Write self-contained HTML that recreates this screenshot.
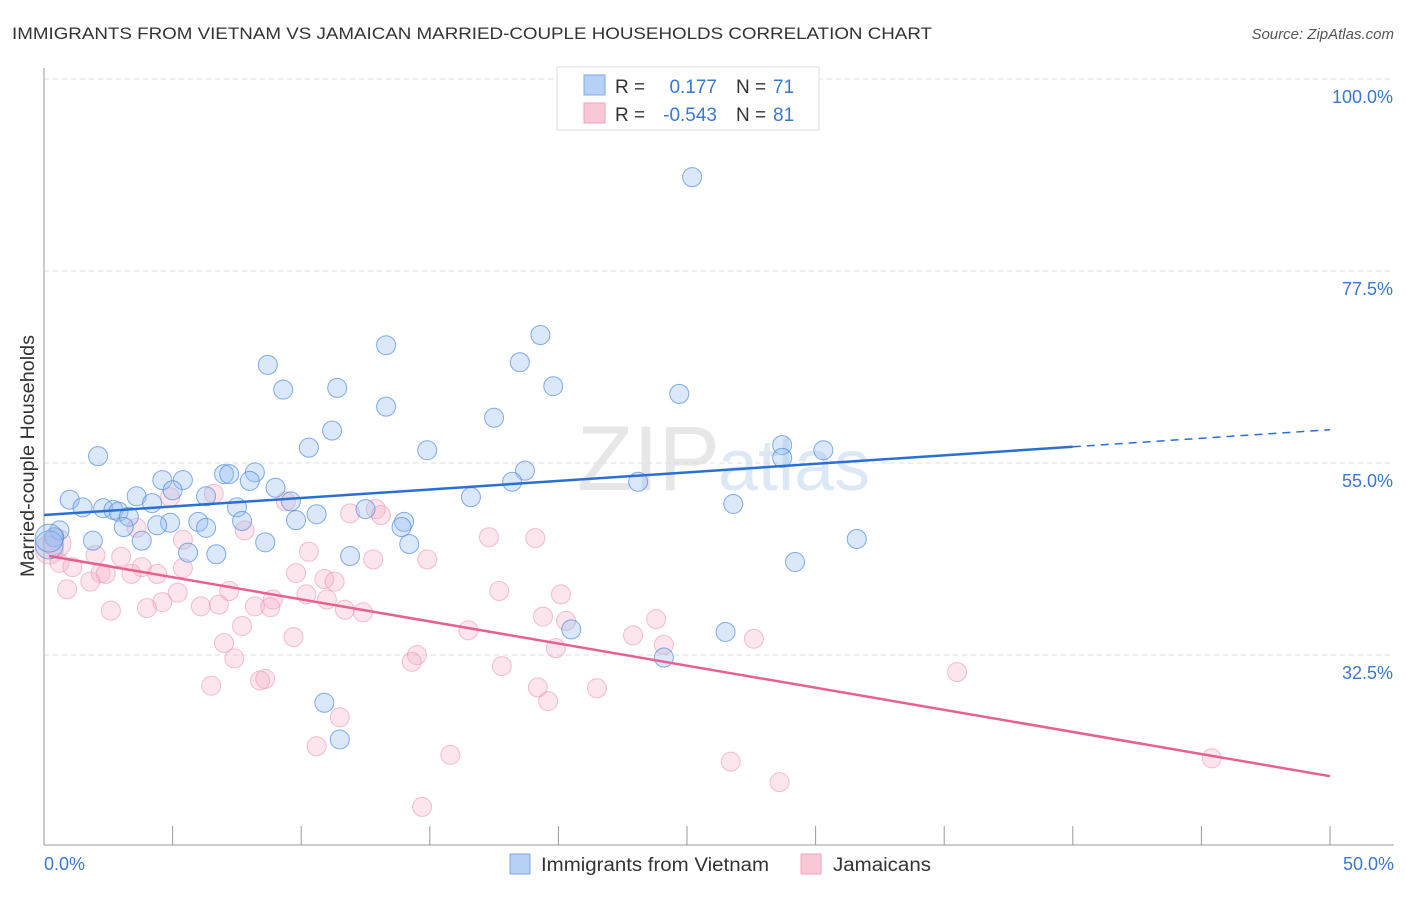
<!DOCTYPE html>
<html><head><meta charset="utf-8"><style>
body{margin:0;background:#fff;font-family:"Liberation Sans",sans-serif;}
svg text{font-family:"Liberation Sans",sans-serif;}
</style></head><body>
<svg width="1406" height="892" id="chart">
<text x="12" y="39" font-size="17" fill="#333" textLength="920" lengthAdjust="spacingAndGlyphs">IMMIGRANTS FROM VIETNAM VS JAMAICAN MARRIED-COUPLE HOUSEHOLDS CORRELATION CHART</text>
<text x="1394" y="39" font-size="15" fill="#555" text-anchor="end" font-style="italic">Source: ZipAtlas.com</text>
<text x="720" y="490" font-size="92" fill="#d8d8d8" text-anchor="end" font-family="Liberation Serif" opacity="0.6">ZIP</text>
<text x="718" y="490" font-size="72" fill="#bcd3ee" opacity="0.5">atlas</text>
<text transform="translate(34,456) rotate(-90)" font-size="19" fill="#333" text-anchor="middle" textLength="242" lengthAdjust="spacingAndGlyphs">Married-couple Households</text>
<g id="grid"></g><g id="axes"></g><g id="pts"></g><g id="lines"></g>
<g>
<rect x="557" y="67" width="262" height="63" fill="#fff" stroke="#ddd"/>
<rect x="584" y="75" width="21" height="20" fill="#b7d0f5" stroke="#7fa9e6"/>
<rect x="584" y="103" width="21" height="20" fill="#f9c8d6" stroke="#f0a3bb"/>
<text x="615" y="93" font-size="19" fill="#333">R =</text><text x="717" y="93" font-size="19" fill="#3a78d0" text-anchor="end">0.177</text>
<text x="736" y="93" font-size="19" fill="#333">N =</text><text x="773" y="93" font-size="19" fill="#3a78d0">71</text>
<text x="615" y="121" font-size="19" fill="#333">R =</text><text x="717" y="121" font-size="19" fill="#3a78d0" text-anchor="end">-0.543</text>
<text x="736" y="121" font-size="19" fill="#333">N =</text><text x="773" y="121" font-size="19" fill="#3a78d0">81</text>
</g>
<g>
<rect x="510" y="854" width="20" height="20" fill="#b7d0f5" stroke="#7fa9e6"/>
<text x="541" y="871" font-size="19" fill="#333" textLength="228" lengthAdjust="spacingAndGlyphs">Immigrants from Vietnam</text>
<rect x="801" y="854" width="20" height="20" fill="#f9c8d6" stroke="#f0a3bb"/>
<text x="833" y="871" font-size="19" fill="#333" textLength="98" lengthAdjust="spacingAndGlyphs">Jamaicans</text>
</g>
</svg>
<script>
const yTicks=[100,77.5,55,32.5];
const yTickLabels=["100.0%","77.5%","55.0%","32.5%"];
const xTickLabels=["0.0%","50.0%"];
const blueX=[25.2,19.3,13.3,18.5,8.7,19.8,9.3,11.4,24.7,13.3,17.5,11.2,10.3,14.9,28.7,30.3,2.1,28.7,18.7,7.0,7.2,8.2,4.6,5.4,8.0,23.1,18.2,9.0,5.0,3.6,6.3,16.6,1.0,4.2,9.6,1.5,2.3,2.7,2.9,7.5,10.6,12.5,26.8,3.3,9.8,14.0,7.7,6.0,4.9,4.4,3.1,6.3,0.6,13.9,0.4,1.9,3.8,8.6,14.2,31.6,5.6,6.7,11.9,29.2,20.5,26.5,24.1,10.9,11.5,0.2,0.2];
const blueY=[88.5,70.0,68.8,66.8,66.5,64.0,63.6,63.8,63.1,61.6,60.3,58.8,56.8,56.5,57.1,56.5,55.8,55.6,54.1,53.7,53.7,53.9,53.0,53.0,52.9,52.8,52.8,52.1,51.8,51.1,51.1,51.0,50.7,50.3,50.5,49.8,49.7,49.5,49.3,49.8,49.0,49.6,50.2,48.7,48.3,48.1,48.2,48.1,48.0,47.7,47.5,47.4,47.1,47.5,46.3,45.9,45.9,45.7,45.5,46.1,44.5,44.3,44.1,43.4,35.5,35.2,32.2,26.9,22.6,45.4,46.2];
const pinkX=[0.5,0.2,6.6,4.9,9.4,12.9,11.9,13.1,3.6,7.8,17.3,19.1,5.4,2.0,3.0,10.3,12.8,14.9,0.6,1.1,3.8,2.2,2.4,3.4,4.4,9.8,10.9,1.8,11.3,5.4,0.9,7.2,17.7,20.1,8.9,10.2,11.0,5.2,4.6,2.6,4.0,6.1,6.8,8.2,8.8,11.7,12.4,19.4,20.3,23.8,16.5,22.9,7.7,9.7,7.0,27.6,24.1,19.9,7.4,14.5,14.3,17.8,35.5,6.5,8.6,8.4,19.2,21.5,19.6,11.5,10.6,15.8,26.7,45.4,28.6,14.7];
const pinkY=[45.6,44.8,51.4,51.0,50.5,49.6,49.1,48.9,47.4,47.1,46.3,46.2,46.0,44.2,44.0,44.6,43.7,43.7,43.3,42.8,42.8,42.1,42.0,42.0,42.0,42.1,41.4,41.1,41.1,42.7,40.2,40.0,40.0,39.6,39.0,39.6,39.0,39.8,38.7,37.7,38.0,38.2,38.4,38.2,38.1,37.8,37.5,37.0,36.5,36.7,35.4,34.8,35.9,34.6,33.9,34.4,33.7,33.3,32.1,32.5,31.7,31.2,30.5,28.9,29.7,29.5,28.7,28.6,27.1,25.2,21.8,20.8,20.0,20.4,17.6,14.7];
const blueFit=[48.9,0.2];
const pinkFit=[44.1,-0.516];
const NS="http://www.w3.org/2000/svg";
const sx=v=>44+v*1286/50;
const sy=v=>463-(v-55)*192/22.5;
function mk(t,a,p){const e=document.createElementNS(NS,t);for(const k in a)e.setAttribute(k,a[k]);p.appendChild(e);return e;}
const grid=document.getElementById('grid'),axes=document.getElementById('axes'),pts=document.getElementById('pts'),lines=document.getElementById('lines');
yTicks.forEach((v,i)=>{
 const l=mk('line',{x1:44,x2:1394,y1:sy(v),y2:sy(v),stroke:'#ddd','stroke-dasharray':'5,4'},grid);
 
 
 const t=mk('text',{x:1393,y:sy(v)+24,'font-size':18,fill:'#3a78d0','text-anchor':'end'},axes);
 t.textContent=yTickLabels[i];
 
 
});
mk('line',{x1:44,x2:44,y1:68,y2:845,stroke:'#999'},axes);
mk('line',{x1:44,x2:1394,y1:845,y2:845,stroke:'#999'},axes);
for(let i=0;i<=10;i++){const x=sx(i*5);const tk=mk('line',{x1:x,x2:x,y1:826,y2:845,stroke:'#999'},axes);
 
 }
[0,1].forEach(i=>{const t=mk('text',{x:i?1394:44,y:870,'font-size':18,fill:'#3a78d0','text-anchor':i?'end':'start'},axes);t.textContent=xTickLabels[i];
 
 });
function dots(X,Y,fill,stroke,name){X.forEach((x,i)=>{const r=(i<2&&name==='pink-point')||(name==='blue-point'&&i>=69)?14:9.5;
 const c=mk('circle',{cx:sx(x),cy:sy(Y[i]),r:r,fill:fill,stroke:stroke,'stroke-width':1},pts);
 
 });}
dots(pinkX,pinkY,'rgba(246,170,195,0.3)','rgba(236,150,178,0.6)','pink-point');
dots(blueX,blueY,'rgba(150,190,240,0.35)','rgba(80,140,220,0.7)','blue-point');
const bl=mk('line',{x1:sx(0),y1:sy(blueFit[0]),x2:sx(40),y2:sy(blueFit[0]+blueFit[1]*40),stroke:'#2a6fd6','stroke-width':2.5},lines);


const bd=mk('line',{x1:sx(40),y1:sy(blueFit[0]+blueFit[1]*40),x2:sx(50),y2:sy(blueFit[0]+blueFit[1]*50),stroke:'#2a6fd6','stroke-width':1.5,'stroke-dasharray':'8,6'},lines);


const pl=mk('line',{x1:sx(0.2),y1:sy(pinkFit[0]),x2:sx(50),y2:sy(pinkFit[0]+pinkFit[1]*50),stroke:'#e8608f','stroke-width':2.5},lines);


</script>
</body></html>
